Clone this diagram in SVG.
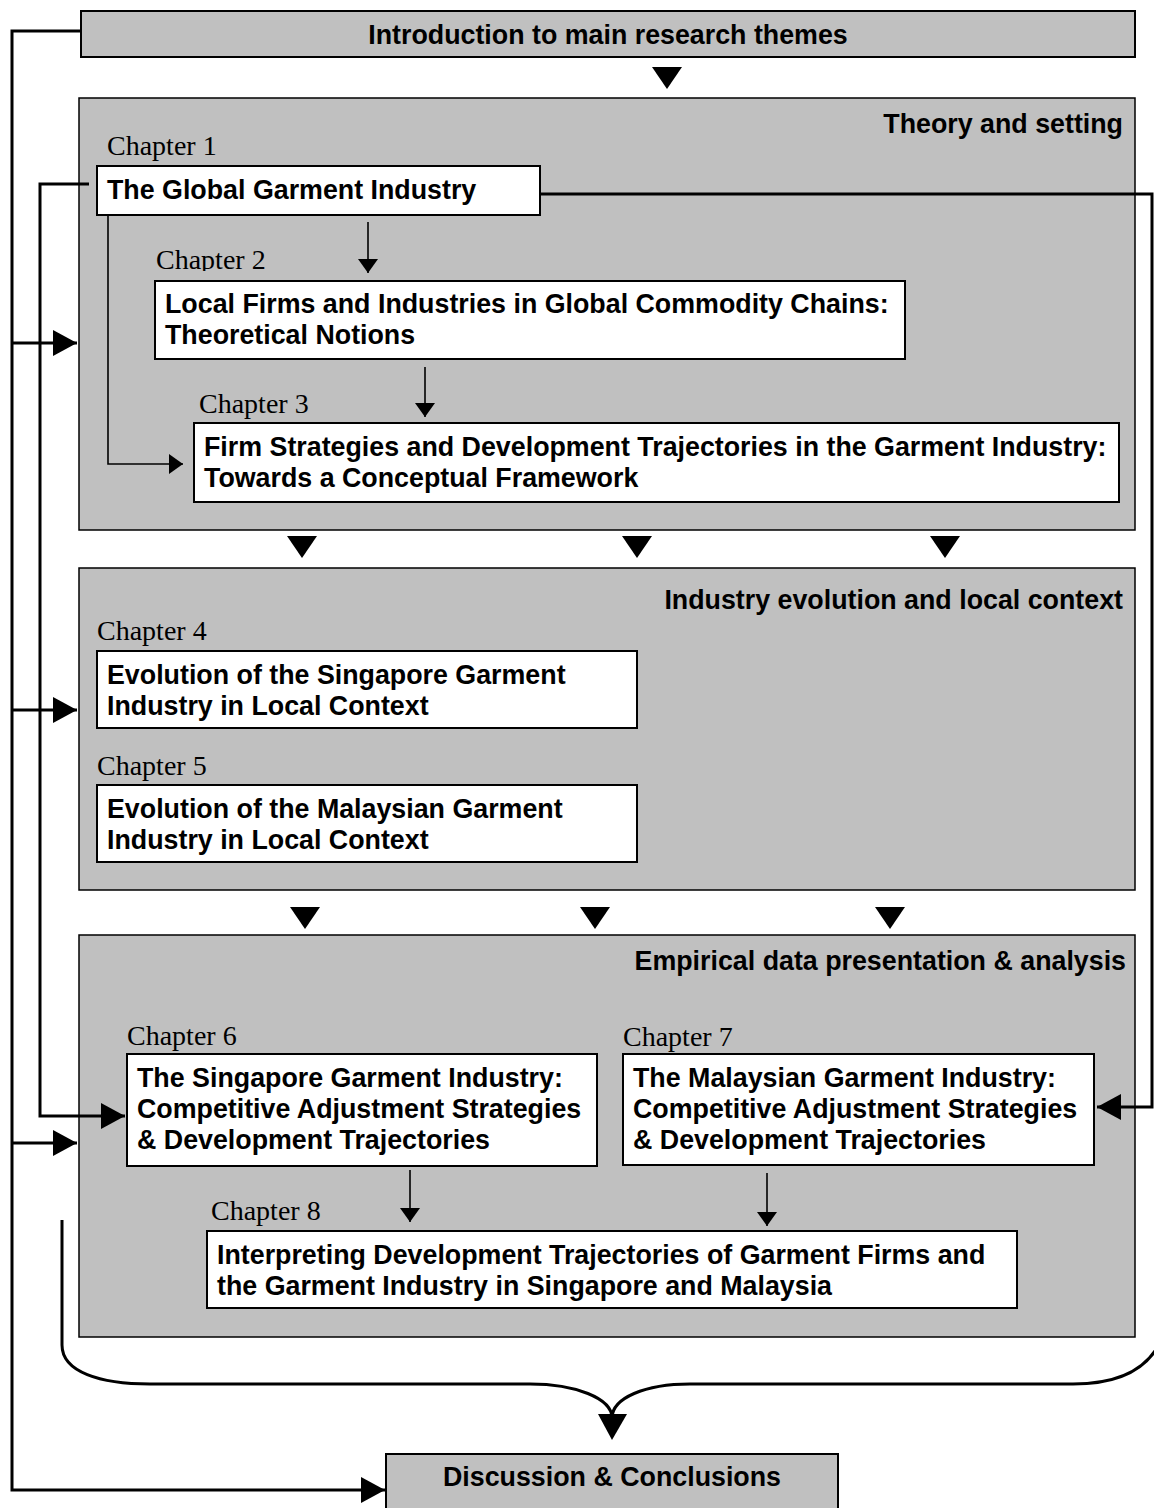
<svg xmlns="http://www.w3.org/2000/svg" xmlns:xlink="http://www.w3.org/1999/xlink" width="1154" height="1508" viewBox="0 0 1154 1508">
  <style>
    .section { fill: #c0c0c0; stroke: #000; stroke-width: 1.5; }
    .band { fill: #c0c0c0; stroke: #000; stroke-width: 2; }
    .box { fill: #fff; stroke: #000; stroke-width: 2; }
    .bold { font-family: "Liberation Sans", Arial, sans-serif; font-weight: bold; font-size: 26.8px; fill: #000; }
    .chap { font-family: "Liberation Serif", "Times New Roman", serif; font-size: 28px; fill: #000; }
    .thick { fill: none; stroke: #000; stroke-width: 3; }
    .thin { fill: none; stroke: #000; stroke-width: 1.6; }
  </style>
  <defs>
    <marker id="bigHead" markerUnits="userSpaceOnUse" markerWidth="26" markerHeight="28" refX="24" refY="13" orient="auto">
      <path d="M0,0 L24,13 L0,26 Z" fill="#000"/>
    </marker>
    <marker id="smallHead" markerUnits="userSpaceOnUse" markerWidth="22" markerHeight="22" refX="14" refY="10" orient="auto">
      <path d="M0,0 L14,10 L0,20 Z" fill="#000"/>
    </marker>
    <path id="drop" d="M-15,0 L15,0 L0,22 Z" fill="#000"/>
    <clipPath id="ch2clip">
      <rect x="150" y="240" width="200" height="31"/>
    </clipPath>
  </defs>

  <!-- opening band -->
  <g id="intro">
    <rect class="band" x="81" y="11" width="1054" height="46"/>
    <text class="bold" x="608" y="44" text-anchor="middle">Introduction to main research themes</text>
  </g>

  <!-- section panels -->
  <g id="theory">
    <rect class="section" x="79" y="98" width="1056" height="432"/>
    <text class="bold" x="1123" y="133" text-anchor="end">Theory and setting</text>
  </g>
  <g id="context">
    <rect class="section" x="79" y="568" width="1056" height="322"/>
    <text class="bold" x="1123" y="609" text-anchor="end">Industry evolution and local context</text>
  </g>
  <g id="empirical">
    <rect class="section" x="79" y="935" width="1056" height="402"/>
    <text class="bold" x="1126" y="970" text-anchor="end">Empirical data presentation &amp; analysis</text>
  </g>

  <!-- chapters -->
  <g id="ch1">
    <text class="chap" x="107" y="155">Chapter 1</text>
    <rect class="box" x="97" y="166" width="443" height="49"/>
    <text class="bold" x="107" y="199">The Global Garment Industry</text>
  </g>
  <g id="ch2">
    <text class="chap" x="156" y="269" clip-path="url(#ch2clip)">Chapter 2</text>
    <rect class="box" x="155" y="281" width="750" height="78"/>
    <text class="bold" x="165" y="313">Local Firms and Industries in Global Commodity Chains:</text>
    <text class="bold" x="165" y="344">Theoretical Notions</text>
  </g>
  <g id="ch3">
    <text class="chap" x="199" y="413">Chapter 3</text>
    <rect class="box" x="194" y="423" width="925" height="79"/>
    <text class="bold" x="204" y="456">Firm Strategies and Development Trajectories in the Garment Industry:</text>
    <text class="bold" x="204" y="487">Towards a Conceptual Framework</text>
  </g>
  <g id="ch4">
    <text class="chap" x="97" y="640">Chapter 4</text>
    <rect class="box" x="97" y="651" width="540" height="77"/>
    <text class="bold" x="107" y="684">Evolution of the Singapore Garment</text>
    <text class="bold" x="107" y="715">Industry in Local Context</text>
  </g>
  <g id="ch5">
    <text class="chap" x="97" y="775">Chapter 5</text>
    <rect class="box" x="97" y="785" width="540" height="77"/>
    <text class="bold" x="107" y="818">Evolution of the Malaysian Garment</text>
    <text class="bold" x="107" y="849">Industry in Local Context</text>
  </g>
  <g id="ch6">
    <text class="chap" x="127" y="1045">Chapter 6</text>
    <rect class="box" x="127" y="1054" width="470" height="112"/>
    <text class="bold" x="137" y="1087">The Singapore Garment Industry:</text>
    <text class="bold" x="137" y="1118">Competitive Adjustment Strategies</text>
    <text class="bold" x="137" y="1149">&amp; Development Trajectories</text>
  </g>
  <g id="ch7">
    <text class="chap" x="623" y="1046">Chapter 7</text>
    <rect class="box" x="623" y="1054" width="471" height="111"/>
    <text class="bold" x="633" y="1087">The Malaysian Garment Industry:</text>
    <text class="bold" x="633" y="1118">Competitive Adjustment Strategies</text>
    <text class="bold" x="633" y="1149">&amp; Development Trajectories</text>
  </g>
  <g id="ch8">
    <text class="chap" x="211" y="1220">Chapter 8</text>
    <rect class="box" x="207" y="1231" width="810" height="77"/>
    <text class="bold" x="217" y="1264">Interpreting Development Trajectories of Garment Firms and</text>
    <text class="bold" x="217" y="1295">the Garment Industry in Singapore and Malaysia</text>
  </g>

  <!-- closing band -->
  <g id="conclusions">
    <rect class="band" x="386" y="1454" width="452" height="70"/>
    <text class="bold" x="612" y="1486" text-anchor="middle">Discussion &amp; Conclusions</text>
  </g>

  <!-- connectors -->
  <g id="connectors">
    <!-- flow markers between panels -->
    <use xlink:href="#drop" x="667" y="67"/>
    <use xlink:href="#drop" x="302" y="536"/>
    <use xlink:href="#drop" x="637" y="536"/>
    <use xlink:href="#drop" x="945" y="536"/>
    <use xlink:href="#drop" x="305" y="907"/>
    <use xlink:href="#drop" x="595" y="907"/>
    <use xlink:href="#drop" x="890" y="907"/>

    <!-- outer loop from the introduction down to the conclusions -->
    <path class="thick" d="M80,31 H12 V1490 H385" marker-end="url(#bigHead)"/>
    <path class="thick" d="M12,343 H77" marker-end="url(#bigHead)"/>
    <path class="thick" d="M12,710 H77" marker-end="url(#bigHead)"/>
    <path class="thick" d="M12,1143 H77" marker-end="url(#bigHead)"/>

    <!-- chapter 1 feeds chapters 6 and 7 -->
    <path class="thick" d="M89,184 H40 V1116 H125" marker-end="url(#bigHead)"/>
    <path class="thick" d="M540,194 H1152 V1107 H1097" marker-end="url(#bigHead)"/>

    <!-- chapter 1 to chapter 3 -->
    <path class="thin" d="M108,215 V464 H183" marker-end="url(#smallHead)"/>

    <!-- chapter order -->
    <path class="thin" d="M368,222 V273" marker-end="url(#smallHead)"/>
    <path class="thin" d="M425,367 V417" marker-end="url(#smallHead)"/>
    <path class="thin" d="M410,1170 V1222" marker-end="url(#smallHead)"/>
    <path class="thin" d="M767,1173 V1226" marker-end="url(#smallHead)"/>

    <!-- brace gathering everything into the conclusions -->
    <path class="thick" d="M62,1220 V1345 C62,1372 100,1384 150,1384 H530 C575,1384 612,1398 612,1418 C612,1398 645,1384 690,1384 H1073 C1115,1384 1148,1372 1162,1338"/>
    <path d="M598,1414 L627,1414 L612,1440 Z" fill="#000"/>
  </g>
</svg>
